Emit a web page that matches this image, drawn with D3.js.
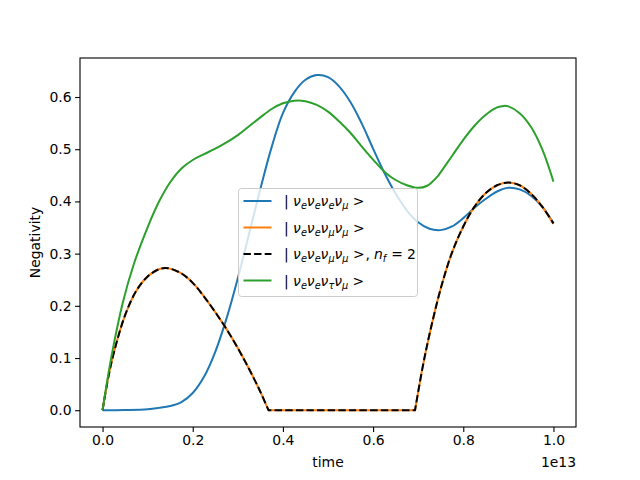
<!DOCTYPE html>
<html><head><meta charset="utf-8">
<script src="https://cdn.jsdelivr.net/npm/d3@7/dist/d3.min.js"></script>
<style>body{margin:0;background:#fff}svg{display:block}text{font-family:"DejaVu Sans",sans-serif}</style>
</head><body><svg id="c" width="640" height="480"></svg>
<script>
// time in units of 1e13
const tBlue = [0,0.05,0.1,0.125,0.15,0.175,0.2,0.225,0.25,0.275,0.3,0.325,0.35,0.375,0.4,0.425,0.45,0.475,0.5,0.525,0.55,0.575,0.6,0.625,0.65,0.675,0.7,0.725,0.75,0.775,0.8,0.825,0.85,0.875,0.9,0.925,0.95,0.975,1.0];
const vBlue = [0,0.0005,0.002,0.0045,0.008,0.0155,0.033,0.064,0.112,0.176,0.253,0.338,0.424,0.504,0.569,0.609,0.633,0.642,0.638,0.62,0.59,0.549,0.501,0.455,0.415,0.3825,0.36,0.3475,0.345,0.352,0.368,0.388,0.405,0.419,0.426,0.423,0.411,0.39,0.358];
const tOrange = [0,0.0125,0.025,0.05,0.075,0.1,0.125,0.145,0.175,0.2,0.225,0.25,0.275,0.3,0.325,0.35,0.368,0.45,0.55,0.65,0.693,0.71,0.725,0.75,0.775,0.8,0.825,0.85,0.875,0.9,0.925,0.95,0.975,1.0];
const vOrange = [0,0.062,0.11,0.182,0.229,0.256,0.27,0.272,0.262,0.244,0.2178,0.1878,0.1553,0.119,0.079,0.0353,0,0,0,0,0,0.083,0.145,0.233,0.302,0.352,0.39,0.416,0.431,0.436,0.431,0.415,0.39,0.357];
const tBlack = tOrange.slice();
const vBlack = [0,0.062,0.11,0.182,0.229,0.256,0.27,0.272,0.262,0.244,0.2178,0.1878,0.1553,0.119,0.079,0.0353,0,0,0,0,0,0.083,0.145,0.233,0.302,0.352,0.39,0.416,0.431,0.436,0.431,0.415,0.39,0.358];
const tGreen = [0,0.02,0.045,0.07,0.1,0.125,0.15,0.175,0.2,0.225,0.25,0.275,0.3,0.325,0.35,0.375,0.4,0.425,0.45,0.475,0.5,0.525,0.55,0.575,0.6,0.625,0.65,0.675,0.7,0.72,0.745,0.775,0.8,0.825,0.85,0.875,0.89,0.9,0.925,0.95,0.975,1.0];
const vGreen = [0,0.104,0.2065,0.2815,0.3505,0.3993,0.4368,0.463,0.4793,0.4905,0.501,0.513,0.527,0.544,0.561,0.577,0.588,0.593,0.592,0.585,0.572,0.553,0.531,0.505,0.48,0.457,0.441,0.431,0.426,0.43,0.45,0.487,0.518,0.545,0.566,0.58,0.583,0.582,0.569,0.543,0.5,0.438];
// indices where the curve has a corner
const breaksOrange = [16,20], breaksGreen = [30], breaksBlue = [];
const xTicks = [0,0.2,0.4,0.6,0.8,1.0];
const yTicks = [0,0.1,0.2,0.3,0.4,0.5,0.6];
const xLabel = "time", yLabel = "Negativity", xOffset = "1e13";

const svg = d3.select("#c");
const L=80,R=576,T=58,B=427;
const x = d3.scaleLinear().domain([-0.05,1.05]).range([L,R]);
const yMax=0.6426;
const y = d3.scaleLinear().domain([-0.05*yMax,1.05*yMax]).range([B,T]);
const FS=13.9;

const xa = svg.append("g").attr("transform",`translate(0,${B})`).call(d3.axisBottom(x).tickValues(xTicks).tickFormat(d3.format(".1f")).tickSize(4.9).tickPadding(3.5));
const ya = svg.append("g").attr("transform",`translate(${L},0)`).call(d3.axisLeft(y).tickValues(yTicks).tickFormat(d3.format(".1f")).tickSize(4.9).tickPadding(3.5));
[xa,ya].forEach(g=>{g.select(".domain").remove();g.selectAll("line").attr("stroke","#000").attr("stroke-width",1.1);g.selectAll("text").attr("font-size",FS).attr("fill","#000").attr("font-family","DejaVu Sans");});

const line = d3.line().x(d=>x(d[0])).y(d=>y(d[1])).curve(d3.curveCatmullRom.alpha(0.5));
function pathD(ts,vs,br){
  const pts = ts.map((t,i)=>[t,vs[i]]);
  const cuts=[0,...br,pts.length-1];
  let d="";
  for(let k=0;k<cuts.length-1;k++){
    const seg=pts.slice(cuts[k],cuts[k+1]+1);
    let s=line(seg);
    if(k>0) s="L"+s.slice(1);
    d+=s;
  }
  return d;
}
svg.append("clipPath").attr("id","cp").append("rect").attr("x",L).attr("y",T).attr("width",R-L).attr("height",B-T);
const series = [
 {t:tBlue,v:vBlue,b:breaksBlue,c:"#1f77b4",d:null},
 {t:tOrange,v:vOrange,b:breaksOrange,c:"#ff7f0e",d:null},
 {t:tBlack,v:vBlack,b:breaksOrange,c:"#000000",d:"7.4,3.2"},
 {t:tGreen,v:vGreen,b:breaksGreen,c:"#2ca02c",d:null}
];
const pg = svg.append("g").attr("clip-path","url(#cp)");
series.forEach(s=>{
  pg.append("path").attr("d",pathD(s.t,s.v,s.b)).attr("fill","none")
   .attr("stroke",s.c).attr("stroke-width",2).attr("stroke-dasharray",s.d).attr("stroke-linecap","butt").attr("stroke-linejoin","round");
});

svg.append("rect").attr("x",L).attr("y",T).attr("width",R-L).attr("height",B-T).attr("fill","none").attr("stroke","#000").attr("stroke-width",1.1);

svg.append("text").attr("x",(L+R)/2).attr("y",467).attr("text-anchor","middle").attr("font-size",FS).text(xLabel);
svg.append("text").attr("x",R).attr("y",467).attr("text-anchor","end").attr("font-size",FS).text(xOffset);
svg.append("text").attr("transform",`translate(40,${(T+B)/2}) rotate(-90)`).attr("text-anchor","middle").attr("font-size",FS).text(yLabel);

// legend: [text, kind(0 roman,1 italic,2 subscript), extra dx]
const labels = [
 [["| ",0],["ν",1],["e",2],["ν",1],["e",2],["ν",1],["e",2],["ν",1],["μ",2],[" >",0]],
 [["| ",0],["ν",1],["e",2],["ν",1],["e",2],["ν",1],["μ",2],["ν",1],["μ",2],[" >",0]],
 [["| ",0],["ν",1],["e",2],["ν",1],["e",2],["ν",1],["μ",2],["ν",1],["μ",2],[" >",0],[",",0,1],["n",1,4],["f",2],["=",0,5],["2",0,4]],
 [["| ",0],["ν",1],["e",2],["ν",1],["e",2],["ν",1],["τ",2],["ν",1],["μ",2],[" >",0]]
];
const lg = svg.append("g");
lg.append("rect").attr("x",238.5).attr("y",188.5).attr("width",179).attr("height",108).attr("rx",3)
  .attr("fill","#fff").attr("fill-opacity",0.8).attr("stroke","#cccccc").attr("stroke-width",1);
const rowY=[201,227.5,254,280.5];
series.forEach((s,i)=>{
  lg.append("line").attr("x1",243.5).attr("x2",271.5).attr("y1",rowY[i]).attr("y2",rowY[i])
   .attr("stroke",s.c).attr("stroke-width",2).attr("stroke-dasharray",s.d);
  const tx = lg.append("text").attr("x",284).attr("y",rowY[i]+5).attr("font-size",FS).attr("xml:space","preserve");
  labels[i].forEach(([str,k,dx],j)=>{
    const prev = j>0?labels[i][j-1][1]:0;
    const ts = tx.append("tspan").text(str);
    if(dx) ts.attr("dx",dx);
    if(k===1){ts.attr("font-style","italic");}
    if(k===2){ts.attr("font-style","italic").attr("font-size",FS*0.7).attr("dy",3);}
    if(k!==2 && prev===2){ts.attr("dy",-3);}
  });
});
</script></body></html>
